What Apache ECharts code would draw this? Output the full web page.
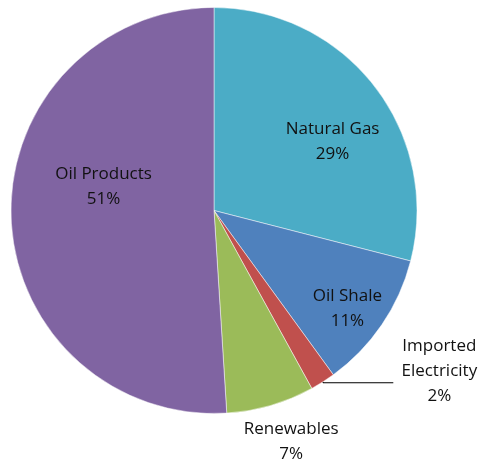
<!DOCTYPE html>
<html>
<head>
<meta charset="utf-8">
<script src="https://cdn.jsdelivr.net/npm/echarts@6/dist/echarts.min.js"></script>
<style>html,body{margin:0;padding:0;background:#fff;}#c{width:482px;height:460px;}</style>
</head>
<body>
<div id="c"></div>
<script>
const categories = ['Natural Gas', 'Oil Shale', 'Imported Electricity', 'Renewables', 'Oil Products'];
const shares = [29, 11, 2, 7, 51];
const labelTexts = ['Natural Gas\n29%', 'Oil Shale\n11%', '{a|Imported}\n{a|Electricity}\n{a|2%}', 'Renewables\n7%', 'Oil Products\n51%'];

const colors = ['#4BACC6', '#4F81BD', '#C0504D', '#9BBB59', '#8064A2'];
const labelShift = [[36, -5], [47, 39], [0, 0], [48, 131], [-6, -27]];
const FONT = '"Open Sans", sans-serif';

const data = categories.map((name, i) => {
  const item = { name: name, value: shares[i], itemStyle: { color: colors[i] } };
  if (i === 2) {
    item.label = {
      position: 'outside',
      padding: [0, 0, 24, 0],
      distanceToLabelLine: 4,
      bleedMargin: 0
    };
    item.labelLine = { show: true, length: 1, length2: 70, smooth: false,
      lineStyle: { color: '#000', width: 1.2 } };
  } else {
    item.label = { position: 'inside' };
    item.labelLine = { show: false };
  }
  return item;
});

const chart = echarts.init(document.getElementById('c'));
chart.setOption({
  animation: false,
  backgroundColor: '#fff',
  series: [{
    type: 'pie',
    center: [214, 210.5],
    radius: 203,
    startAngle: 90,
    clockwise: true,
    avoidLabelOverlap: false,
    itemStyle: { borderColor: 'rgba(255,255,255,0.6)', borderWidth: 0.8 },
    label: {
      show: true,
      color: '#111',
      fontFamily: FONT,
      fontSize: 17,
      lineHeight: 25,
      bleedMargin: 0,
      formatter: p => labelTexts[p.dataIndex],
      rich: { a: { width: 84, align: 'center', fontFamily: FONT, fontSize: 17, lineHeight: 25, color: '#111' } }
    },
    labelLayout: function (params) {
      const s = labelShift[params.dataIndex];
      if (params.dataIndex === 2) return {};
      return { dx: s[0], dy: s[1] };
    },
    emphasis: { disabled: true },
    data: data
  }]
});
</script>
</body>
</html>
